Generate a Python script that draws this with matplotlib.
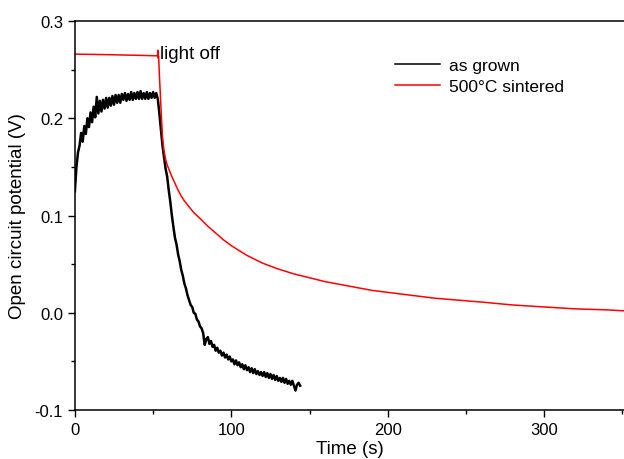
import matplotlib
matplotlib.use("Agg")
import matplotlib.pyplot as plt
from matplotlib.ticker import MultipleLocator

plt.rcParams["font.family"] = ["Liberation Sans", "DejaVu Sans"]

# as grown sample, one reading per second
grown_t = list(range(0, 145))
grown_v = [
    0.125, 0.150, 0.165, 0.172, 0.185, 0.176, 0.192, 0.184, 0.200, 0.191,
    0.206, 0.196, 0.212, 0.201, 0.222, 0.205, 0.218, 0.207, 0.219, 0.210,
    0.221, 0.211, 0.221, 0.213, 0.223, 0.214, 0.224, 0.216, 0.224, 0.216,
    0.225, 0.219, 0.226, 0.218, 0.225, 0.219, 0.227, 0.219, 0.226, 0.220,
    0.227, 0.220, 0.228, 0.220, 0.226, 0.220, 0.227, 0.220, 0.226, 0.221,
    0.227, 0.221, 0.226, 0.220, 0.205, 0.188, 0.172, 0.160, 0.148, 0.140,
    0.126, 0.114, 0.100, 0.088, 0.077, 0.070, 0.060, 0.053, 0.044, 0.038,
    0.030, 0.025, 0.018, 0.013, 0.008, 0.006, 0.000, -0.001, -0.007, -0.009,
    -0.014, -0.016, -0.021, -0.033, -0.027, -0.025, -0.032, -0.029, -0.035, -0.033,
    -0.039, -0.036, -0.041, -0.039, -0.044, -0.041, -0.046, -0.043, -0.048, -0.045,
    -0.050, -0.048, -0.053, -0.049, -0.054, -0.051, -0.056, -0.053, -0.058, -0.054,
    -0.059, -0.056, -0.061, -0.057, -0.062, -0.058, -0.063, -0.060, -0.064, -0.061,
    -0.065, -0.061, -0.066, -0.062, -0.067, -0.063, -0.068, -0.064, -0.069, -0.065,
    -0.070, -0.067, -0.071, -0.067, -0.072, -0.068, -0.073, -0.070, -0.074, -0.070,
    -0.075, -0.080, -0.074, -0.072, -0.075,
]

# 500 C sintered sample
sint_t = [0, 20, 40, 52, 52.8, 53.0, 53.2, 53.5, 54, 55, 56, 57, 58, 59, 60,
          62, 64, 66, 68, 70, 73, 76, 80, 85, 90, 95, 100, 105, 110, 115,
          120, 125, 130, 140, 150, 160, 170, 180, 190, 200, 215, 230, 245,
          260, 280, 300, 320, 340, 351]
sint_v = [0.266, 0.2655, 0.2648, 0.2643, 0.2642, 0.270, 0.262, 0.264, 0.245,
          0.212, 0.180, 0.166, 0.158, 0.152, 0.148, 0.140, 0.133, 0.126,
          0.120, 0.115, 0.109, 0.103, 0.097, 0.089, 0.082, 0.075, 0.069,
          0.064, 0.059, 0.055, 0.051, 0.048, 0.045, 0.040, 0.036, 0.032,
          0.029, 0.026, 0.023, 0.021, 0.018, 0.015, 0.013, 0.011, 0.008,
          0.006, 0.004, 0.003, 0.002]

fig = plt.figure(figsize=(6.24, 4.6), dpi=100)
ax = fig.add_axes([0.120, 0.1065, 0.880, 0.8455])

ax.plot(grown_t, grown_v, color="black", lw=1.8, label="as grown")
ax.plot(sint_t, sint_v, color="red", lw=1.1, label="500\u00b0C sintered")

ax.set_xlim(0, 351)
ax.set_ylim(-0.1, 0.3)
ax.xaxis.set_major_locator(MultipleLocator(100))
ax.xaxis.set_minor_locator(MultipleLocator(50))
ax.yaxis.set_minor_locator(MultipleLocator(0.05))
ax.set_yticks([-0.1, 0.0, 0.1, 0.2, 0.3])
ax.set_yticklabels(["-0.1", "0.0", "0.1", "0.2", "0.3"])
ax.tick_params(which="major", direction="out", length=5, width=1,
               labelsize=12, top=False, right=False)
ax.tick_params(which="minor", direction="out", length=3, width=1,
               top=False, right=False)
ax.spines["right"].set_visible(False)
for s in ["left", "bottom", "top"]:
    ax.spines[s].set_linewidth(1.1)

ax.set_xlabel("Time (s)", fontsize=13.5, labelpad=2)
ax.set_ylabel("Open circuit potential (V)", fontsize=13.5, labelpad=6)

ax.text(54.3, 0.267, "light off", fontsize=13.5, va="center", ha="left")

leg = ax.legend(loc="upper left", bbox_to_anchor=(0.555, 0.945), frameon=False,
                fontsize=12.5, handlelength=2.6, handletextpad=0.5,
                labelspacing=0.3)
for line in leg.get_lines():
    line.set_linewidth(1.1)

fig.savefig("out.png", dpi=100)
